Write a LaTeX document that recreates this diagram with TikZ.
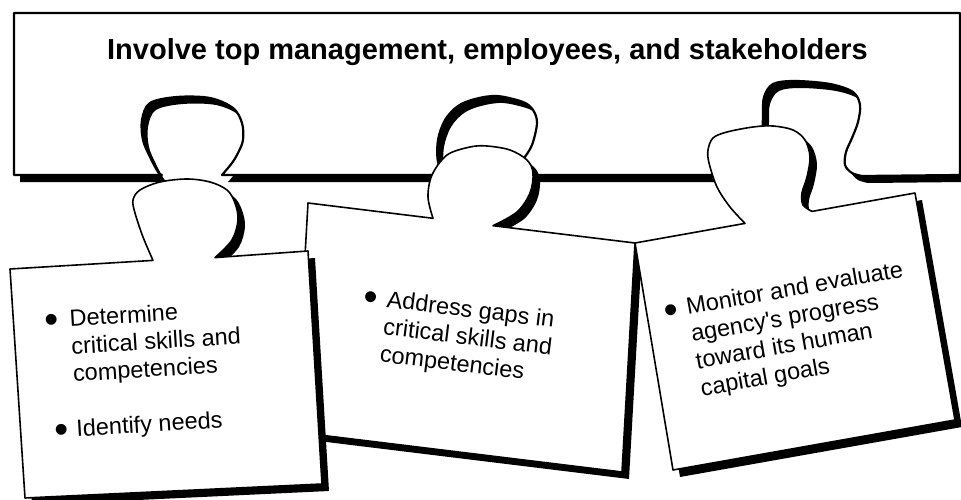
\documentclass[tikz,border=0pt]{standalone}
\usepackage{fontspec}
\usepackage{graphicx}
\newfontfamily\pf{Liberation Sans}
\newcommand\bigbul{\raisebox{-5.5pt}{\fontsize{40}{40}\selectfont\textbullet}}
\def\pathBanner{(14,13) -- (960,13) -- (960,175) -- (862,176)
  -- plot[smooth,tension=0.55] coordinates {(862,176) (852,173) (845,165) (846,152) (852,138) (858,122) (860,105) (853,92) (830,84) (795,81) (773,84) (764,97) (763,115) (762,132) (756,155) (740,175)}
  -- (515,175)
  -- plot[smooth,tension=0.55] coordinates {(515,175) (523,160) (532,145) (537,123) (533,110) (523,102) (497,96) (475,99) (458,106) (445,120) (438,140) (438,162) (445,175)}
  -- (222,175)
  -- plot[smooth,tension=0.55] coordinates {(222,175) (232,163) (238,153) (243,140) (242,123) (233,108) (210,98) (177,97) (150,103) (142,120) (143,140) (150,157) (158,172) (162,175)}
  -- (14,175) -- cycle}
\def\pathPieceA{(10,269) -- (153,260.4)
  -- plot[smooth,tension=0.55] coordinates {(153,260.4) (143,237) (135,213) (133,200) (140,190) (160,182) (187,179) (210,182) (227,190) (235,203) (238,220) (232,240) (215,257.6)}
  -- (308,251) -- (322,484) -- (25,498) -- cycle}
\def\pathPieceB{(308,203) -- (433,218.3)
  -- plot[smooth,tension=0.55] coordinates {(433,218.3) (428,197) (432,175) (447,155) (470,147) (487,146) (510,150) (527,160) (533,173) (530,193) (517,212) (493,225.7)}
  -- (635,243) -- (622,472) -- (295,432) -- cycle}
\def\pathPieceC{(635,243) -- (745,223.4)
  -- plot[smooth,tension=0.55] coordinates {(745,223.4) (730,207) (717,187) (709,163) (708,150) (713,138) (727,132) (753,127) (773,126) (793,130) (805,140) (810,157) (807,177) (802,193) (803,205) (812,211.4)}
  -- (915,193) -- (955,420) -- (673,470) -- cycle}
\begin{document}
\begin{tikzpicture}[x=1pt,y=-1pt,
  shad/.style={fill=black},
  bannerbox/.style={fill=white,draw=black,line width=2.2pt,line join=round},
  piecebox/.style={fill=white,draw=black,line width=1.6pt,line join=round},
  bodytext/.style={inner sep=0pt,anchor=base west,font=\pf\fontsize{23.5}{27.5}\selectfont},
  titletext/.style={inner sep=0pt,anchor=base,font=\pf\bfseries\fontsize{29}{34}\selectfont}]
\useasboundingbox (0,0) rectangle (961,500);
% banner
\fill[shad,shift={(6,7)}] \pathBanner;
\path[bannerbox] \pathBanner;
\node[titletext] (title) at (487.5,59.5) {Involve top management, employees, and stakeholders};
% middle piece
\fill[shad,shift={(7,7)}] \pathPieceB;
\path[piecebox] \pathPieceB;
\node[bodytext,rotate=-7] (textB) at (363,304.2) {\begin{tabular}[t]{@{}l@{}l@{}}
\makebox[23pt][l]{\bigbul} & Address gaps in\\
 & critical skills and\\
 & competencies
\end{tabular}};
% left piece
\fill[shad,shift={(7,7)}] \pathPieceA;
\path[piecebox] \pathPieceA;
\node[bodytext,rotate=3.5] (textA) at (45,328.3) {\begin{tabular}[t]{@{}l@{}l@{}}
\makebox[22pt][l]{\bigbul} & Determine\\
 & critical skills and\\
 & competencies\\
 & \\
\hspace{3pt}\makebox[22pt][l]{\bigbul} & Identify needs
\end{tabular}};
% right piece
\fill[shad,shift={(7,7)}] \pathPieceC;
\path[piecebox] \pathPieceC;
\node[bodytext,rotate=10] (textC) at (665,318.9) {\begin{tabular}[t]{@{}l@{}l@{}}
\makebox[23pt][l]{\bigbul} & Monitor and evaluate\\
 & agency\textquotesingle s progress\\
 & toward its human\\
 & capital goals
\end{tabular}};
\end{tikzpicture}
\end{document}
